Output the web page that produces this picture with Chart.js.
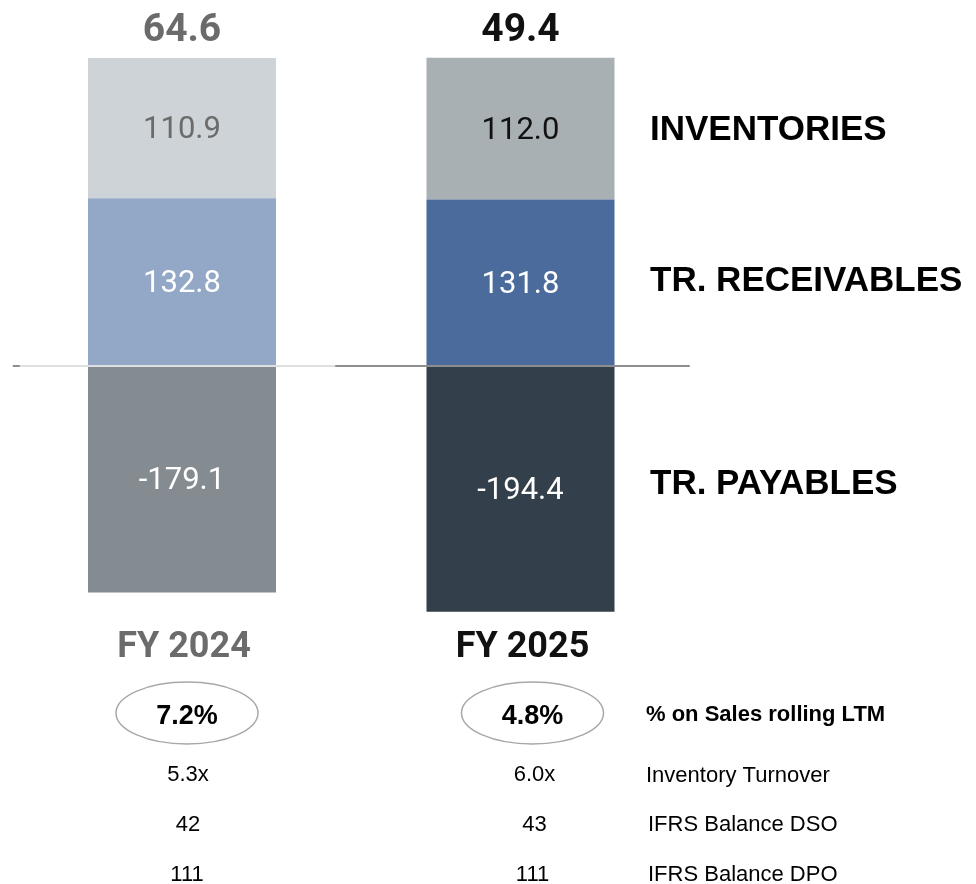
<!DOCTYPE html>
<html>
<head>
<meta charset="utf-8">
<script src="https://cdn.jsdelivr.net/npm/chart.js@4"></script>
<style>
  html, body { margin: 0; padding: 0; background: #ffffff; }
  #wrap { width: 976px; height: 884px; position: relative; }
</style>
</head>
<body>
<div id="wrap"><canvas id="c" width="976" height="884"></canvas></div>
<script>
const categories = ["FY 2024", "FY 2025"];
const inventories = [110.9, 112.0];
const receivables = [132.8, 131.8];
const payables = [-179.1, -194.4];
const totals = ["64.6", "49.4"];
const salesPct = ["7.2%", "4.8%"];
const invTurnover = ["5.3x", "6.0x"];
const dso = ["42", "43"];
const dpo = ["111", "111"];
const seriesNames = ["INVENTORIES", "TR. RECEIVABLES", "TR. PAYABLES"];
const metricNames = ["% on Sales rolling LTM", "Inventory Turnover", "IFRS Balance DSO", "IFRS Balance DPO"];

const colInv = ["#cdd3d6", "#a9b0b4"];
const colRec = ["#93a8c6", "#4a6b9b"];
const colPay = ["#848b91", "#333f4a"];
const labInv = ["#6b6b6b", "#111111"];
const yearColor = ["#6b6b6b", "#111111"];

const overlay = {
  id: 'overlay',
  afterDatasetsDraw(chart) {
    const ctx = chart.ctx;
    const x = chart.scales.x, y = chart.scales.y;
    const y0 = y.getPixelForValue(0);
    ctx.save();
    // zero line
    ctx.strokeStyle = '#8e8e8e';
    ctx.lineWidth = 2;
    ctx.beginPath();
    ctx.moveTo(chart.chartArea.left, y0);
    ctx.lineTo(chart.chartArea.right, y0);
    ctx.stroke();
    ctx.strokeStyle = 'rgba(232,232,232,0.9)';
    ctx.beginPath();
    ctx.moveTo(chart.chartArea.left + 7, y0);
    ctx.lineTo((x.getPixelForValue(0) + x.getPixelForValue(1)) / 2 - 16, y0);
    ctx.stroke();

    ctx.textAlign = 'center';
    ctx.textBaseline = 'alphabetic';
    for (let i = 0; i < categories.length; i++) {
      const cx = x.getPixelForValue(i);
      // segment labels
      const segs = [
        [receivables[i] + inventories[i] / 2, inventories[i].toFixed(1), labInv[i]],
        [receivables[i] / 2, receivables[i].toFixed(1), '#ffffff'],
        [payables[i] / 2, payables[i].toFixed(1), '#ffffff']
      ];
      ctx.font = '31px Roboto';
      for (const s of segs) {
        ctx.fillStyle = s[2];
        ctx.fillText(s[1], cx, y.getPixelForValue(s[0]) - 1 + 11);
      }
      // totals
      ctx.font = 'bold 39px Roboto';
      ctx.fillStyle = yearColor[i];
      ctx.fillText(totals[i], cx, y.getPixelForValue(receivables[i] + inventories[i]) - 16.5);
      // year
      ctx.font = 'bold 36px Roboto';
      ctx.fillText(categories[i], cx + 2, 657);
      // metrics column
      const mx = cx + (i === 0 ? 5 : 12);
      const nx = cx + (i === 0 ? 6 : 14);
      ctx.strokeStyle = '#a8a8a8';
      ctx.lineWidth = 1.5;
      ctx.beginPath();
      ctx.ellipse(mx, 713, 71, 31, 0, 0, Math.PI * 2);
      ctx.stroke();
      ctx.fillStyle = '#000000';
      ctx.font = 'bold 27px "Liberation Sans", Arial, sans-serif';
      ctx.fillText(salesPct[i], mx, 724);
      ctx.font = '22px "Liberation Sans", Arial, sans-serif';
      ctx.fillText(invTurnover[i], nx, 781);
      ctx.fillText(dso[i], nx, 831);
      ctx.fillText(dpo[i], mx, 881);
    }
    // series names on the right
    const lx = 650;
    const i1 = 1;
    ctx.textAlign = 'left';
    ctx.fillStyle = '#000000';
    ctx.font = 'bold 35px "Liberation Sans", Arial, sans-serif';
    const yInv = y.getPixelForValue(receivables[i1] + inventories[i1] / 2) - 1;
    const yRec = y.getPixelForValue(receivables[i1] / 2) - 4;
    const yPay = y.getPixelForValue(payables[i1] / 2) - 7;
    ctx.fillText(seriesNames[0], lx, yInv + 12.5);
    ctx.fillText(seriesNames[1], lx, yRec + 12.5);
    ctx.fillText(seriesNames[2], lx, yPay + 12.5);
    // metric names
    ctx.font = 'bold 22px "Liberation Sans", Arial, sans-serif';
    ctx.fillText(metricNames[0], 646, 721);
    ctx.font = '22px "Liberation Sans", Arial, sans-serif';
    ctx.fillText(metricNames[1], 646, 782);
    ctx.fillText(metricNames[2], 648, 831);
    ctx.fillText(metricNames[3], 648, 881);
    ctx.restore();
  }
};

new Chart(document.getElementById('c'), {
  type: 'bar',
  data: {
    labels: categories,
    datasets: [
      { label: seriesNames[1], data: receivables, backgroundColor: colRec, borderWidth: 0 },
      { label: seriesNames[0], data: inventories, backgroundColor: colInv, borderWidth: 0 },
      { label: seriesNames[2], data: payables, backgroundColor: colPay, borderWidth: 0 }
    ]
  },
  options: {
    responsive: false,
    animation: false,
    events: [],
    layout: { padding: { top: 56.3, bottom: 208.3, left: 12.75, right: 286.25 } },
    datasets: { bar: { barPercentage: 0.5554, categoryPercentage: 1 } },
    plugins: { legend: { display: false }, tooltip: { enabled: false } },
    scales: {
      x: { display: false, stacked: true },
      y: { display: false, stacked: true, min: -245, max: 245 }
    }
  },
  plugins: [overlay]
});
</script>
</body>
</html>
